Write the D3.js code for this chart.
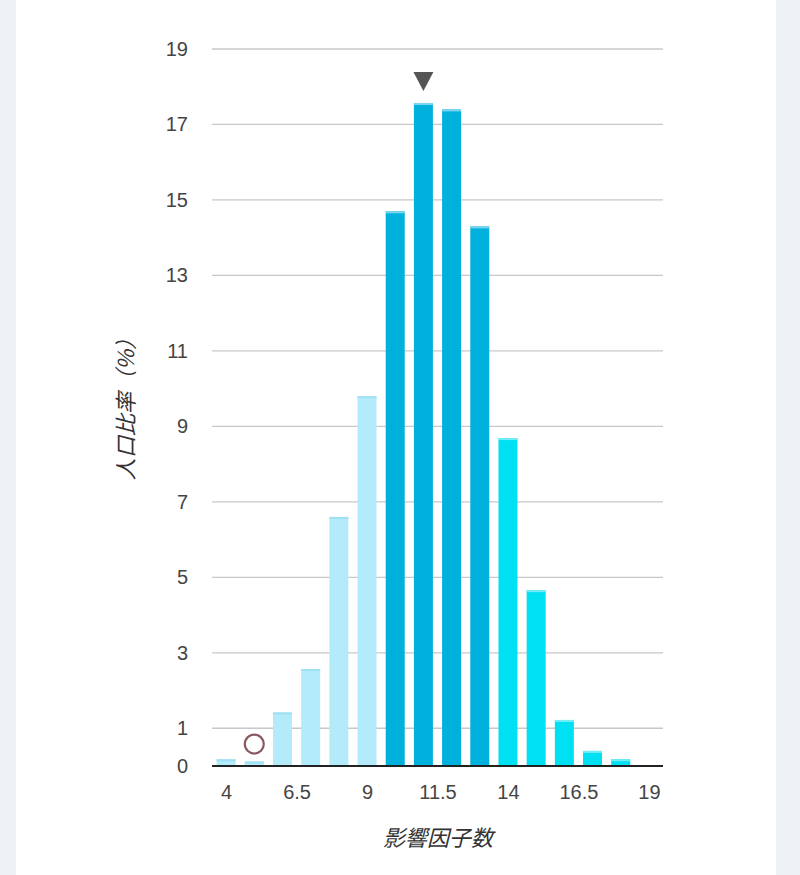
<!DOCTYPE html>
<html><head><meta charset="utf-8">
<script src="https://cdn.jsdelivr.net/npm/d3@7/dist/d3.min.js"></script>
<style>
html,body{margin:0;padding:0;background:#eef2f7;}
#card{position:absolute;left:16px;top:0;width:760px;height:875px;background:#fff;}
svg{position:absolute;left:0;top:0;}
</style></head>
<body><div id="card"></div><svg id="chart" width="800" height="875"></svg>
<script>
const categories = [4,5,6,7,8,9,10,11,12,13,14,15,16,17,18];
const values = [0.18,0.12,1.42,2.57,6.6,9.8,14.7,17.57,17.4,14.3,8.69,4.66,1.22,0.4,0.18];
const groups = ["low","low","low","low","low","low","mid","mid","mid","mid","high","high","high","high","high"];
const xTicks = [4,6.5,9,11.5,14,16.5,19];
const yTicks = [0,1,3,5,7,9,11,13,15,17,19];
const markerTriangleAt = 11;
const markerCircle = {x:5, y:0.58};

const colors = {low:"#b4ebfa", mid:"#00b1dd", high:"#00e0f3"};
const topColors = {low:"#9fe0f2", mid:"#7dd6ee", high:"#74ecf7"};

const svg = d3.select("#chart");
const x = d3.scaleLinear().domain([3.5,19.5]).range([212,663]);
const y = d3.scaleLinear().domain([0,19]).range([766,49]);
const bw = 19;
const tickFont = "'Liberation Sans', Arial, sans-serif";

// grid
svg.append("g").selectAll("line").data(yTicks.filter(d=>d>0)).join("line")
  .attr("x1",x(3.5)).attr("x2",x(19.5)).attr("y1",d=>y(d)).attr("y2",d=>y(d))
  .attr("stroke","#c8c8c8").attr("stroke-width",1.3);

// y axis labels
const yAxis = d3.axisLeft(y).tickValues(yTicks).tickSize(0).tickPadding(0).tickFormat(d3.format("d"));
const ya = svg.append("g").attr("transform","translate(188,0)").call(yAxis);
ya.select(".domain").remove();
ya.selectAll("text").attr("font-family",tickFont).attr("font-size",20).attr("fill","#444");

// x axis
const xAxis = d3.axisBottom(x).tickValues(xTicks).tickSize(0).tickPadding(19).tickFormat(d=>String(d));
const xa = svg.append("g").attr("transform",`translate(0,${y(0)})`).call(xAxis);
xa.select(".domain").remove();
xa.selectAll("text").attr("font-family",tickFont).attr("font-size",20).attr("fill","#444");

// bars
const data = categories.map((c,i)=>({c, v:values[i], g:groups[i]}));
svg.append("g").selectAll("rect").data(data).join("rect")
  .attr("x",d=>x(d.c)-bw/2).attr("width",bw)
  .attr("y",d=>y(d.v)).attr("height",d=>y(0)-y(d.v))
  .attr("fill",d=>colors[d.g]);
svg.append("g").selectAll("rect").data(data).join("rect")
  .attr("x",d=>x(d.c)-bw/2).attr("width",bw)
  .attr("y",d=>y(d.v)).attr("height",2)
  .attr("fill",d=>topColors[d.g]);

// baseline
svg.append("line").attr("x1",x(3.5)).attr("x2",x(19.5)).attr("y1",y(0)).attr("y2",y(0))
  .attr("stroke","#222").attr("stroke-width",2);

// triangle marker
const tv = values[categories.indexOf(markerTriangleAt)];
const tx = x(markerTriangleAt), ty = y(tv) - 12;
svg.append("path").attr("d",`M${tx-10},${ty-19} L${tx+10},${ty-19} L${tx},${ty} Z`).attr("fill","#555");

// circle marker
svg.append("circle").attr("cx",x(markerCircle.x)).attr("cy",y(markerCircle.y)).attr("r",9.5)
  .attr("fill","none").attr("stroke","#8a5a60").attr("stroke-width",2.2);

// titles
svg.append("text").attr("x",438).attr("y",846).attr("text-anchor","middle")
  .attr("font-family","'Noto Sans CJK JP', sans-serif").attr("font-size",22).attr("font-style","italic").attr("fill","#333")
  .text("影響因子数");
svg.append("text").attr("transform","translate(134,404) rotate(-90)").attr("text-anchor","middle")
  .attr("font-family","'Noto Sans CJK JP', sans-serif").attr("font-size",22).attr("font-style","italic").attr("fill","#333")
  .text("人口比率（%）");
</script></body></html>
